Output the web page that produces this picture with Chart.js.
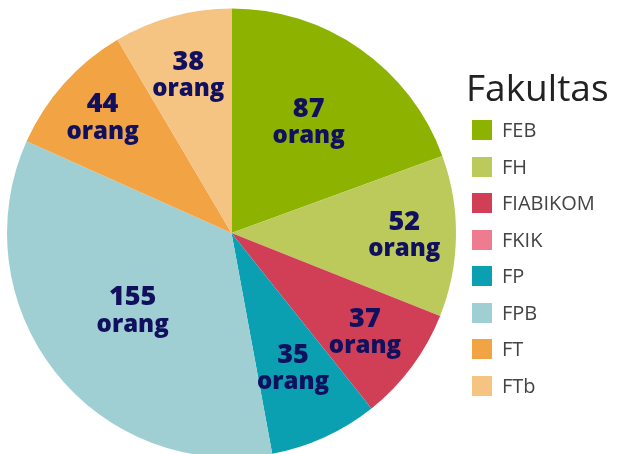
<!DOCTYPE html>
<html>
<head>
<meta charset="utf-8">
<script src="https://cdn.jsdelivr.net/npm/chart.js@4"></script>
<style>
    html, body { margin: 0; padding: 0; background: #fff; overflow: hidden; }
    #wrap { position: relative; width: 621px; height: 460px; }
    #legend { position: absolute; left: 466px; top: 62px; font-family: "Open Sans", sans-serif; }
    #legend .title { font-size: 37px; color: #222; line-height: 50px; margin-bottom: 8px; }
    #legend .item { height: 36.5px; display: flex; align-items: flex-start; font-size: 20px; color: #444; }
    #legend .box { width: 20px; height: 20px; margin: 0 10px 0 6px; }
    #legend .item span { line-height: 20px; }
</style>
</head>
<body>
<div id="wrap">
    <canvas id="pieChart" width="621" height="460"></canvas>
    <div id="legend"></div>
</div>
<script>
// data
const legendTitle = 'Fakultas';
const faculties = ['FEB', 'FH', 'FIABIKOM', 'FKIK', 'FP', 'FPB', 'FT', 'FTb'];
const students = [87, 52, 37, 0, 35, 155, 44, 38];
const unit = 'orang';

// styles
const sliceColors = ['#8db300', '#bcca5c', '#d13f56', '#ef7b90', '#0aa0b2', '#9fcfd2', '#f2a445', '#f5c382'];
const labelDist = [0.6, 0.77, 0.74, 0.7, 0.66, 0.56, 0.77, 0.73];

// etiquetas dentro de cada rebanada
const sliceLabels = {
    id: 'sliceLabels',
    afterDatasetsDraw(chart) {
        const ctx = chart.ctx;
        const arcs = chart.getDatasetMeta(0).data;
        ctx.save();
        ctx.fillStyle = '#10105e';
        ctx.textAlign = 'center';
        ctx.textBaseline = 'middle';
        arcs.forEach((arc, i) => {
            if (!students[i]) return;
            const p = arc.getProps(['x', 'y', 'startAngle', 'endAngle', 'outerRadius'], true);
            const mid = (p.startAngle + p.endAngle) / 2;
            const r = p.outerRadius * labelDist[i];
            const cx = p.x + Math.cos(mid) * r;
            const cy = p.y + Math.sin(mid) * r;
            ctx.font = '800 27px "Open Sans", sans-serif';
            ctx.fillText(String(students[i]), cx, cy - 13);
            ctx.font = '800 24px "Open Sans", sans-serif';
            ctx.fillText(unit, cx, cy + 14);
        });
        ctx.restore();
    }
};

new Chart(document.getElementById('pieChart'), {
    type: 'pie',
    data: {
        labels: faculties,
        datasets: [{
            data: students,
            backgroundColor: sliceColors,
            borderWidth: 0
        }]
    },
    options: {
        responsive: false,
        animation: false,
        layout: { padding: { left: 7, right: 165, top: 8, bottom: 2 } },
        plugins: {
            legend: { display: false },
            tooltip: { enabled: false }
        }
    },
    plugins: [sliceLabels]
});

// leyenda en HTML
const legend = document.getElementById('legend');
legend.innerHTML = `<div class="title">${legendTitle}</div>` +
    faculties.map((f, i) => `<div class="item"><div class="box" style="background:${sliceColors[i]}"></div><span>${f}</span></div>`).join('');
</script>
</body>
</html>
